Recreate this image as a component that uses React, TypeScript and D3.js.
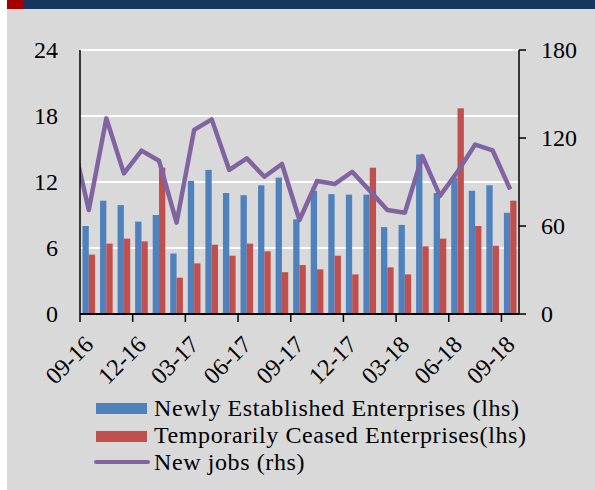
import React from "react";
import * as d3 from "d3";

const months = [
  "09-16","10-16","11-16","12-16","01-17","02-17","03-17","04-17","05-17","06-17","07-17","08-17",
  "09-17","10-17","11-17","12-17","01-18","02-18","03-18","04-18","05-18","06-18","07-18","08-18","09-18",
];
const newlyEstablished = [8.0,10.3,9.9,8.4,9.0,5.5,12.1,13.1,11.0,10.8,11.7,12.4,8.6,11.2,10.9,10.85,10.85,7.9,8.1,14.5,11.0,12.4,11.2,11.7,9.2];
const temporarilyCeased = [5.4,6.4,6.85,6.6,13.3,3.3,4.6,6.3,5.3,6.4,5.7,3.8,4.45,4.06,5.3,3.6,13.3,4.24,3.6,6.15,6.85,18.7,8.0,6.2,10.3];
// line starts one month earlier (08-16), clipped at the plot edge
const newJobsPrev = 123;
const newJobs = [70.9,133.4,95.9,111.4,104.5,62.3,125.5,132.7,98.2,106.1,93.6,102.3,64.1,90.7,88.6,97.0,84.1,70.9,69.1,107.7,80.5,97,115.5,111.5,85];
const leftTicks = [0, 6, 12, 18, 24];
const rightTicks = [0, 60, 120, 180];
const legendLabels = [
  "Newly Established Enterprises (lhs)",
  "Temporarily Ceased Enterprises(lhs)",
  "New jobs (rhs)",
];

const W = 595, H = 490;
const L = 80, R = 519, T = 50, B = 314;
const BLUE = "#4f81bd", RED = "#c0504d", PURPLE = "#8064a2";
const FONT = "'Liberation Serif', 'Times New Roman', serif";

export default function App() {
  const x = d3.scaleBand<string>().domain(months).range([L, R]).padding(0);
  const xi = d3.scaleLinear().domain([0, months.length]).range([L, R]);
  const sub = d3.scaleBand<string>().domain(["n", "c"]).range([0, x.bandwidth()]).paddingInner(0).paddingOuter(0.39);
  const yL = d3.scaleLinear().domain([0, 24]).range([B, T]);
  const yR = d3.scaleLinear().domain([0, 180]).range([B, T]);

  const linePts: [number, number][] = [[xi(-0.5), yR(newJobsPrev)]].concat(
    newJobs.map((v, i) => [xi(i + 0.5), yR(v)] as [number, number])
  ) as [number, number][];
  const lineGen = d3.line();

  const tickIdx = d3.range(0, months.length, 3);

  return (
    <svg width={W} height={H} style={{ position: "absolute", left: 0, top: 0 }} fontFamily={FONT}>
      <defs>
        <clipPath id="plotclip">
          <rect x={L} y={T - 10} width={R - L} height={B - T + 10} />
        </clipPath>
      </defs>
      <rect x={0} y={0} width={W} height={H} fill="#ffffff" />
      <rect x={7} y={0} width={W - 7} height={H} fill="#d9d9d9" />
      <rect x={7} y={0} width={W - 7} height={9} fill="#17365d" />
      <rect x={7} y={0} width={16} height={9} fill="#a50000" />

      {leftTicks.filter((t) => t > 0).map((t) => (
        <line key={"g" + t} x1={L} x2={R} y1={yL(t)} y2={yL(t)} stroke="#ffffff" strokeWidth={2} />
      ))}

      {months.map((m, i) => (
        <g key={m}>
          <rect x={(x(m) as number) + (sub("n") as number)} y={yL(newlyEstablished[i])} width={sub.bandwidth()} height={B - yL(newlyEstablished[i])} fill={BLUE} />
          <rect x={(x(m) as number) + (sub("c") as number)} y={yL(temporarilyCeased[i])} width={sub.bandwidth()} height={B - yL(temporarilyCeased[i])} fill={RED} />
        </g>
      ))}

      <path d={lineGen(linePts) || ""} fill="none" stroke={PURPLE} strokeWidth={4.5} strokeLinejoin="round" clipPath="url(#plotclip)" />

      {/* axes */}
      <line x1={L} x2={L} y1={T} y2={B} stroke="#000" strokeWidth={1.5} />
      <line x1={R} x2={R} y1={T} y2={B} stroke="#000" strokeWidth={1.5} />
      <line x1={L} x2={R} y1={B} y2={B} stroke="#000" strokeWidth={2} />
      {tickIdx.map((i) => (
        <line key={"t" + i} x1={xi(i)} x2={xi(i)} y1={B} y2={B + 8} stroke="#000" strokeWidth={1.5} />
      ))}
      {rightTicks.map((t) => (
        <line key={"rt" + t} x1={R} x2={R + 7} y1={yR(t)} y2={yR(t)} stroke="#000" strokeWidth={1.5} />
      ))}

      {leftTicks.map((t) => (
        <text key={"lt" + t} x={58} y={yL(t)} textAnchor="end" dominantBaseline="central" fontSize={24} fill="#000">{t}</text>
      ))}
      {rightTicks.map((t) => (
        <text key={"rl" + t} x={541} y={yR(t)} textAnchor="start" dominantBaseline="central" fontSize={24} fill="#000">{t}</text>
      ))}
      {tickIdx.map((i) => {
        const ax = xi(i + 0.5) + 6, ay = 346;
        return (
          <text key={"xl" + i} x={ax} y={ay} textAnchor="end" fontSize={24} fill="#000" transform={`rotate(-45, ${ax}, ${ay})`}>{months[i]}</text>
        );
      })}

      {/* legend */}
      <rect x={96} y={403} width={51} height={11} fill={BLUE} />
      <rect x={96} y={431} width={51} height={11} fill={RED} />
      <line x1={96} x2={148} y1={462} y2={462} stroke={PURPLE} strokeWidth={4} strokeLinecap="round" />
      {legendLabels.map((s, i) => (
        <text key={s} x={154} y={416 + i * 27} fontSize={24} letterSpacing={0.6} fill="#000">{s}</text>
      ))}
    </svg>
  );
}
